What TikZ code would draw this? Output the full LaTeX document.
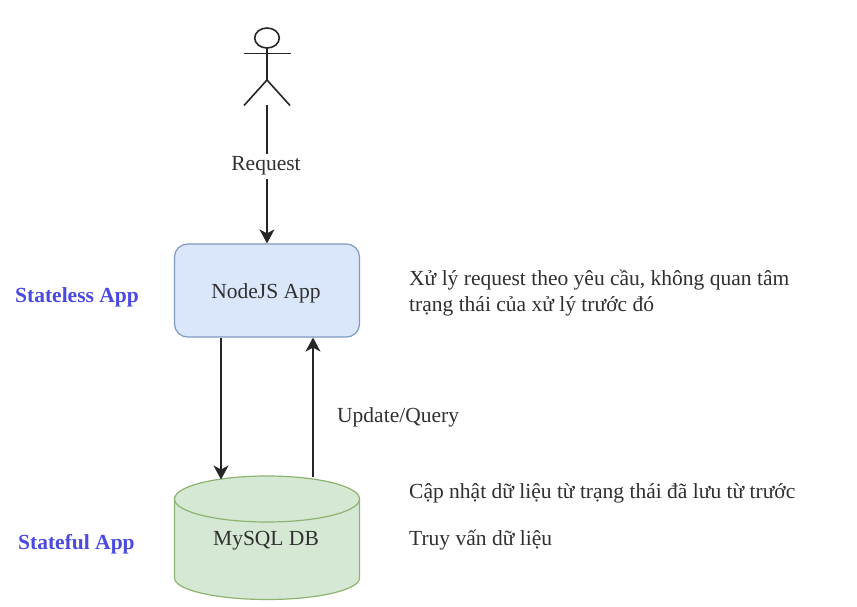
\documentclass[tikz,border=0pt]{standalone}
\usepackage{fontspec}
\setmainfont{Liberation Serif}
\usetikzlibrary{arrows.meta}
\definecolor{inkc}{HTML}{262626}
\definecolor{textc}{HTML}{303030}
\definecolor{boxfill}{HTML}{DAE6FA}
\definecolor{boxline}{HTML}{7F9AC0}
\definecolor{dbfill}{HTML}{D5E8D4}
\definecolor{dbline}{HTML}{8DB370}
\definecolor{tagc}{HTML}{4A4AE0}
\tikzset{
  x=1pt,y=-1pt,
  stick/.style={draw=inkc,line width=1.6pt},
  flow/.style={draw=inkc,line width=1.6pt,-{Stealth[length=14pt,width=15pt,inset=4pt]}},
  lbl/.style={font=\fontsize{21.5}{25}\selectfont,text=textc,inner sep=0pt,anchor=base west},
  mid/.style={font=\fontsize{21.5}{25}\selectfont,text=textc,inner sep=0pt,anchor=base},
  tag/.style={font=\fontsize{21.5}{25}\selectfont\bfseries,text=tagc,inner sep=0pt,anchor=base west},
  appbox/.style={draw=boxline,fill=boxfill,line width=1.2pt,rounded corners=13pt,minimum width=185pt,minimum height=93pt,inner sep=0pt},
  dbshape/.style={draw=dbline,fill=dbfill,line width=1.2pt},
}
\begin{document}
\begin{tikzpicture}
\useasboundingbox (0,0) rectangle (857,607);
\fill[white] (0,0) rectangle (857,607);
% actor
\draw[stick] (267,38) ellipse [x radius=12.3,y radius=10];
\draw[stick] (267,48) -- (267,80);
\draw[stick] (243.5,53.5) -- (290.5,53.5);
\draw[stick] (244,105.5) -- (267,80) -- (290,105.5);
\coordinate (actorfoot) at (267,105.5);
% app
\node[appbox] (app) at (267,290.5) {};
% database
\draw[dbshape] (174.5,499) arc[start angle=180,end angle=360,x radius=92.5,y radius=23]
  -- (359.5,578) arc[start angle=0,end angle=180,x radius=92.5,y radius=21.5] -- cycle;
\draw[dbshape,fill=none] (174.5,499) arc[start angle=180,end angle=0,x radius=92.5,y radius=23];
\coordinate (dbin) at (221,479.5);
\coordinate (dbout) at (313,476.5);
% connectors
\draw[flow] (actorfoot) -- (app.north);
\draw[flow] (app.south -| dbin) -- (dbin);
\draw[flow] (dbout) -- (app.south -| dbout);
% labels
\node[mid,fill=white,inner sep=2pt,text depth=6pt,text height=15pt] (req) at (266,171) {Request};
\node[mid] (applbl) at (266,298) {NodeJS App};
\node[mid] (dblbl) at (266,545) {MySQL DB};
\node[lbl] (upd) at (337,422) {Update/Query};
\node[lbl] (n1) at (409,285.5) {Xử lý request theo yêu cầu, không quan tâm};
\node[lbl] (n2) at (409,311) {trạng thái của xử lý trước đó};
\node[lbl] (n3) at (409,498) {Cập nhật dữ liệu từ trạng thái đã lưu từ trước};
\node[lbl] (n4) at (409,545) {Truy vấn dữ liệu};
\node[tag] (t1) at (15,302) {Stateless App};
\node[tag] (t2) at (18,549) {Stateful App};
\end{tikzpicture}
\end{document}
